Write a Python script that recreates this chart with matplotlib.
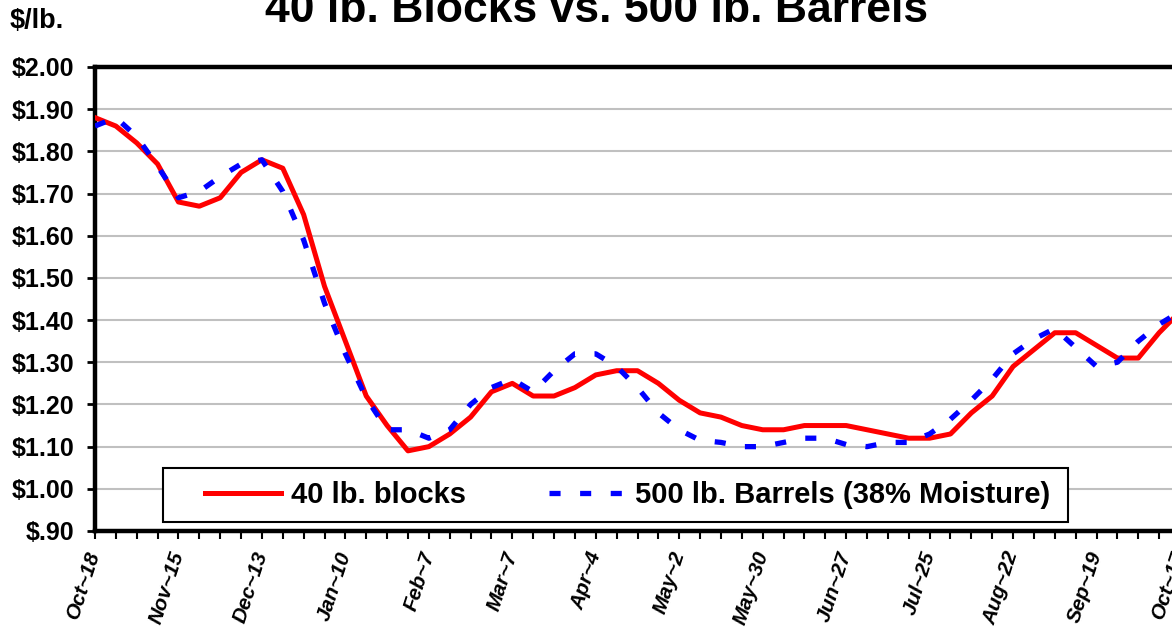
import matplotlib
matplotlib.use("Agg")
import matplotlib.pyplot as plt
from matplotlib.patches import Rectangle
import numpy as np

plt.rcParams['font.family'] = ['Liberation Sans', 'DejaVu Sans']
plt.rcParams['font.weight'] = 'bold'

# weekly prices, $/lb., Oct-18 .. Oct-17
blocks = [1.88, 1.86, 1.82, 1.77, 1.68, 1.67, 1.69, 1.75, 1.78, 1.76,
          1.65, 1.48, 1.35, 1.22, 1.15, 1.09, 1.10, 1.13, 1.17, 1.23,
          1.25, 1.22, 1.22, 1.24, 1.27, 1.28, 1.28, 1.25, 1.21, 1.18,
          1.17, 1.15, 1.14, 1.14, 1.15, 1.15, 1.15, 1.14, 1.13, 1.12,
          1.12, 1.13, 1.18, 1.22, 1.29, 1.33, 1.37, 1.37, 1.34, 1.31,
          1.31, 1.37, 1.42]
barrels = [1.86, 1.88, 1.835, 1.765, 1.69, 1.705, 1.74, 1.77, 1.78, 1.705,
           1.59, 1.44, 1.32, 1.215, 1.14, 1.14, 1.12, 1.14, 1.20, 1.24,
           1.26, 1.23, 1.28, 1.32, 1.32, 1.29, 1.24, 1.18, 1.14, 1.115,
           1.11, 1.10, 1.10, 1.11, 1.12, 1.12, 1.105, 1.10, 1.11, 1.11,
           1.13, 1.165, 1.21, 1.26, 1.32, 1.355, 1.38, 1.335, 1.29, 1.30,
           1.35, 1.39, 1.42]
x_labels = ['Oct~18', 'Nov~15', 'Dec~13', 'Jan~10', 'Feb~7', 'Mar~7', 'Apr~4',
            'May~2', 'May~30', 'Jun~27', 'Jul~25', 'Aug~22', 'Sep~19', 'Oct~17']
y_ticks = [0.90, 1.00, 1.10, 1.20, 1.30, 1.40, 1.50, 1.60, 1.70, 1.80, 1.90, 2.00]

W, H = 1172, 628
fig = plt.figure(figsize=(W / 100, H / 100), dpi=100)
ax = fig.add_axes([95 / W, 1 - 531 / H, (1180 - 95) / W, 464 / H])

weeks = np.arange(len(blocks))
ax.plot(weeks, blocks, color='#ff0000', lw=3.6, label='40 lb. blocks', zorder=3)
ax.plot(weeks, barrels, color='#0000ff', lw=3.8, dashes=(2.1, 3.7),
        dash_capstyle='butt', label='500 lb. Barrels (38% Moisture)', zorder=4)

ax.set_xlim(0, len(blocks) - 1)
ax.set_ylim(0.9, 2.0)

ax.set_yticks(y_ticks)
ax.set_yticklabels([('$%.2f' % v).replace('$0.', '$.') for v in y_ticks],
                   fontsize=18, fontweight='bold')
ax.set_xticks(weeks[::4])
ax.set_xticks(weeks, minor=True)
ax.set_xticklabels(x_labels, rotation=72, ha='right', va='center',
                   rotation_mode='anchor', fontsize=15, fontweight='bold',
                   fontstyle='italic')

ax.tick_params(axis='y', direction='out', length=6, width=2, pad=9)
ax.tick_params(axis='x', which='both', direction='out', length=6, width=1.5, pad=9)

ax.yaxis.grid(True, color='#c0c0c0', lw=1.5)
ax.set_axisbelow(True)
for s in ax.spines.values():
    s.set_linewidth(3.2)
    s.set_color('black')

# legend box (frame drawn separately so the entries can sit inset like the original)
ax.add_patch(Rectangle((0.0627, 0.0194), 0.834, 0.1164, transform=ax.transAxes,
                       facecolor='white', edgecolor='black', lw=1.5, zorder=5))
leg = ax.legend(loc='center left', bbox_to_anchor=(0.0931, 0.0194, 0.7954, 0.1164),
                mode='expand', ncol=2, frameon=False,
                prop=dict(weight='bold', size=21),
                handlelength=2.6, handletextpad=0.35, borderpad=0.3,
                borderaxespad=0)
leg.set_zorder(6)

fig.text(597 / W, 1 - 22 / H, '40 lb. Blocks vs. 500 lb. Barrels', ha='center',
         va='baseline', fontsize=32, fontweight='bold')
fig.text(10 / W, 1 - 28 / H, '$/lb.', ha='left', va='baseline', fontsize=19.5,
         fontweight='bold')

fig.savefig('out.png', dpi=100)
